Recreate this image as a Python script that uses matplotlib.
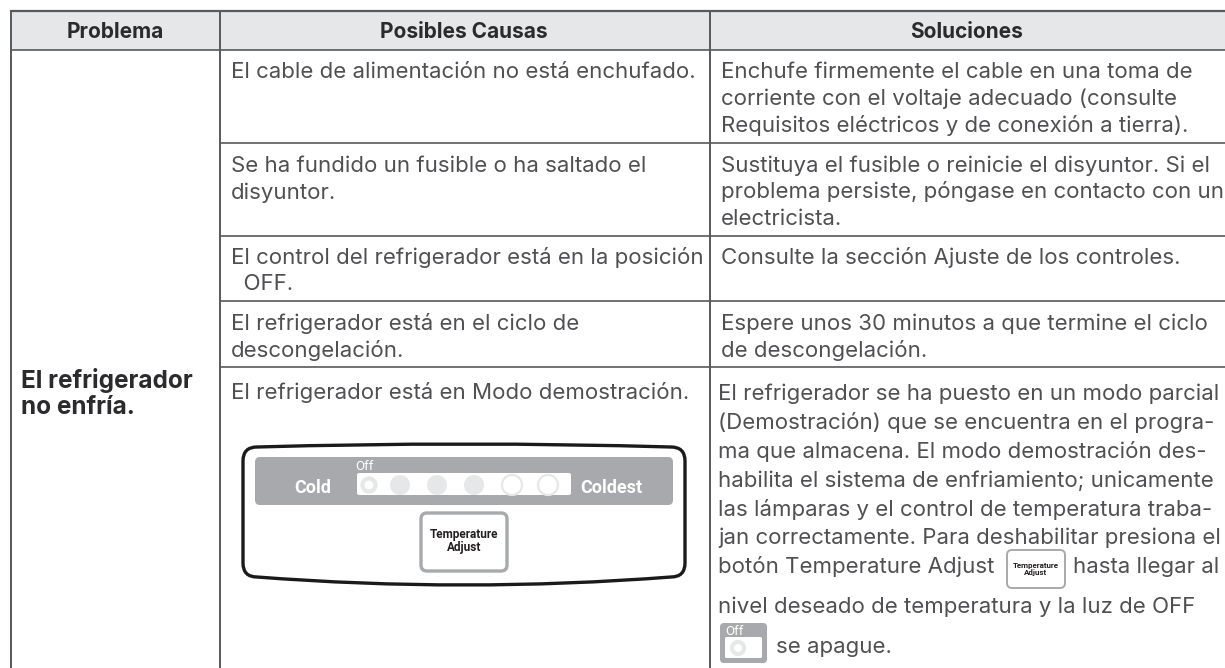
import matplotlib
matplotlib.use('Agg')
import matplotlib.pyplot as plt
from matplotlib.patches import FancyBboxPatch, Rectangle, Circle, PathPatch
from matplotlib.path import Path

headers = ['Problema', 'Posibles Causas', 'Soluciones']
problem = ['El refrigerador', 'no enfría.']
causes = [
    ['El cable de alimentación no está enchufado.'],
    ['Se ha fundido un fusible o ha saltado el', 'disyuntor.'],
    ['El control del refrigerador está en la posición', '  OFF.'],
    ['El refrigerador está en el ciclo de', 'descongelación.'],
    ['El refrigerador está en Modo demostración.'],
]
solutions = [
    ['Enchufe firmemente el cable en una toma de', 'corriente con el voltaje adecuado (consulte',
     'Requisitos eléctricos y de conexión a tierra).'],
    ['Sustituya el fusible o reinicie el disyuntor. Si el', 'problema persiste, póngase en contacto con un',
     'electricista.'],
    ['Consulte la sección Ajuste de los controles.'],
    ['Espere unos 30 minutos a que termine el ciclo', 'de descongelación.'],
    ['El refrigerador se ha puesto en un modo parcial', '(Demostración) que se encuentra en el progra-',
     'ma que almacena. El modo demostración des-', 'habilita el sistema de enfriamiento; unicamente',
     'las lámparas y el control de temperatura traba-', 'jan correctamente. Para deshabilitar presiona el',
     'botón Temperature Adjust', 'nivel deseado de temperatura y la luz de OFF'],
]
button_tail = 'hasta llegar al'
last_line = 'se apague.'
panel_labels = ['Cold', 'Coldest', 'Off', 'Temperature\nAdjust']

W, H = 1225, 668
FONT = 'Inter'
NARROW = 'Roboto'
TXT = '#505053'
plt.rcParams['font.family'] = [FONT, 'DejaVu Sans']
fig = plt.figure(figsize=(W / 100, H / 100), dpi=100)
ax = fig.add_axes([0, 0, 1, 1])
ax.set_xlim(0, W)
ax.set_ylim(H, 0)
ax.axis('off')

FS = 16.0
LC = '#58595b'
col_x = [11, 220, 710]
row_y = [50, 143, 236, 301, 367]

ax.add_patch(Rectangle((11, 11), W - 11, 39, fc='#e6e7e8', ec='none', zorder=0))
ax.plot([11, W], [11, 11], color=LC, lw=1.6)
for y in row_y:
    ax.plot([col_x[1] if y > 50 else 11, W], [y, y], color=LC, lw=1.2)
for x in col_x:
    ax.plot([x, x], [11, H], color=LC, lw=1.4)

for h, cx in zip(headers, [115, 464, 967]):
    ax.text(cx, 38, h, ha='center', va='baseline', fontsize=15, fontweight='bold', color='#2b2b2d')

for line, y in zip(problem, [388, 414]):
    ax.text(21, y, line, va='baseline', fontsize=17.5, fontweight='bold', color='#2b2b2d')

cause_y = [[78], [172, 199], [264, 290], [330, 357], [399]]
for lines, ys in zip(causes, cause_y):
    for line, y in zip(lines, ys):
        ax.text(231, y, line, va='baseline', fontsize=FS, color=TXT)

sol_y = [[78, 105, 132], [172, 198, 225], [264], [330, 357],
         [400, 429, 458, 487, 516, 544, 573, 613]]
for i, (lines, ys) in enumerate(zip(solutions, sol_y)):
    for line, y in zip(lines, ys):
        x = 718 if i == 4 else 721
        ax.text(x, y, line, va='baseline', fontsize=FS, color=TXT)
ax.text(1219, 573, button_tail, ha='right', va='baseline', fontsize=FS, color=TXT)
ax.text(776, 653, last_line, va='baseline', fontsize=FS, color=TXT)

GREY = '#a7a9ac'
LIGHT = '#e6e7e8'

def rbox(x0, y0, x1, y1, r, **kw):
    ax.add_patch(FancyBboxPatch((x0 + r, y0 + r), x1 - x0 - 2 * r, y1 - y0 - 2 * r,
                                boxstyle=f'round,pad={r},rounding_size={r}', **kw))

# control panel illustration: outline with bowed top and bottom edges
L, R, T, B, C = 243, 685, 447, 577, 464
outline = Path(
    [(L, T + 14), (L, T), (L + 14, T), (C, T - 6), (R - 14, T), (R, T), (R, T + 14),
     (R, B - 14), (R, B), (R - 14, B), (C, B + 16), (L + 14, B), (L, B), (L, B - 14), (L, T + 14)],
    [Path.MOVETO, Path.CURVE3, Path.CURVE3, Path.CURVE3, Path.CURVE3, Path.CURVE3, Path.CURVE3,
     Path.LINETO, Path.CURVE3, Path.CURVE3, Path.CURVE3, Path.CURVE3, Path.CURVE3, Path.CURVE3, Path.CLOSEPOLY])
ax.add_patch(PathPatch(outline, fc='white', ec='#1a1a1a', lw=2.4))
rbox(255, 457, 673, 505, 5, fc=GREY, ec='none')
rbox(357, 473, 571, 495, 2, fc='white', ec='none')
ax.text(313, 493, panel_labels[0], ha='center', va='baseline', color='white', fontsize=13,
        fontweight='bold', family=NARROW)
ax.text(611, 493, panel_labels[1], ha='center', va='baseline', color='white', fontsize=13,
        fontweight='bold', family=NARROW)
ax.text(364, 470, panel_labels[2], ha='center', va='baseline', color='white', fontsize=9.5, family=NARROW)
ax.add_patch(Circle((369, 485), 6.5, fc='white', ec=LIGHT, lw=3))
for cx in [400, 437, 474]:
    ax.add_patch(Circle((cx, 485), 10, fc=LIGHT, ec='none'))
for cx in [512, 548]:
    ax.add_patch(Circle((cx, 485), 10, fc='white', ec=LIGHT, lw=1.6))
rbox(421, 513, 507, 571, 6, fc='white', ec=GREY, lw=2.4)
ax.text(464, 541, panel_labels[3], ha='center', va='center', color='#231f20', fontsize=8.5,
        fontweight='bold', family=NARROW, linespacing=1.05)

# inline button icon
rbox(1007, 550, 1065, 588, 5, fc='white', ec=GREY, lw=1.4)
ax.text(1036, 569, panel_labels[3], ha='center', va='center', color='#231f20', fontsize=5.8,
        fontweight='bold', family=NARROW, linespacing=1.05)

# inline Off icon
rbox(720, 623, 767, 663, 4, fc=GREY, ec='none')
rbox(725, 637, 762, 658, 1.5, fc='white', ec='none')
ax.text(734, 635, panel_labels[2], ha='center', va='baseline', color='white', fontsize=9.5, family=NARROW)
ax.add_patch(Circle((738, 648), 6, fc='white', ec=LIGHT, lw=3))

fig.savefig('out.png', dpi=100)
